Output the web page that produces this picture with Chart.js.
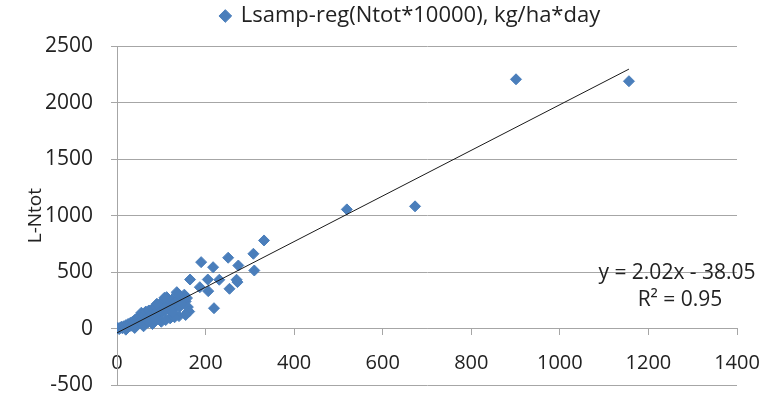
<!DOCTYPE html>
<html>
<head>
<meta charset="utf-8">
<script src="https://cdn.jsdelivr.net/npm/chart.js@4.4.0/dist/chart.umd.min.js"></script>
<style>
  body { margin: 0; background: #fff; }
  #wrap { width: 769px; height: 397px; }
</style>
</head>
<body>
<div id="wrap"><canvas id="myChart"></canvas></div>
<script>
const xVals = [0, 2, 5, 8, 10, 12, 15, 18, 20, 22, 25, 28, 30, 32, 35, 38, 40, 42, 45, 47,
  50, 52, 55, 57, 60, 62, 65, 67, 70, 72, 75, 78, 80, 82, 85, 87, 90, 92, 95, 98,
  100, 102, 105, 108, 110, 112, 115, 118, 120, 122, 125, 128, 130, 132, 135, 138, 140, 142, 145, 148,
  150, 152, 155, 158, 160, 163, 136, 153, 159, 146, 90, 107, 165,
  100, 120, 140, 155, 80, 60, 40, 20, 110, 130, 70, 85, 125,
  187, 206, 205, 190, 217, 219, 231, 251, 254, 270, 272, 274, 308, 310, 332,
  519, 673, 901, 1156];
const yVals = [0, 5, -5, 10, 15, 3, 20, 8, 30, 12, 40, 18, 50, 25, 60, 30, 75, 38, 90, 45,
  110, 55, 140, 62, 120, 70, 150, 80, 100, 160, 90, 130, 175, 105, 190, 120, 150, 210, 130, 175,
  230, 145, 195, 250, 160, 278, 210, 180, 240, 200, 260, 215, 175, 240, 322, 230, 260, 195, 280, 250,
  220, 300, 240, 270, 190, 150, 313, 278, 145, 219, 219, 272, 434,
  60, 90, 110, 120, 40, 20, 5, -10, 75, 100, 55, 80, 140,
  366, 331, 434, 588, 543, 180, 432, 627, 352, 432, 411, 558, 662, 514, 780,
  1055, 1082, 2207, 2190];

const slope = 2.02;
const intercept = -38.05;
const rSquared = 0.95;

const xTicks = [0, 200, 400, 600, 800, 1000, 1200, 1400];
const yTicks = [-500, 0, 500, 1000, 1500, 2000, 2500];

const seriesLabel = 'Lsamp-reg(Ntot*10000), kg/ha*day';
const yTitle = 'L-Ntot';

const points = xVals.map((x, i) => ({ x: x, y: yVals[i] }));
const xMin = Math.min(...xVals);
const xMax = Math.max(...xVals);
const trend = [
  { x: xMin, y: slope * xMin + intercept },
  { x: xMax, y: slope * xMax + intercept },
];

const FONT = 'Open Sans';
const gridColor = '#a6a6a6';

const equationLabel = {
  id: 'equationLabel',
  afterLayout(chart) {
    // excel centres the legend a bit right of the canvas middle
    chart.legend.left += 30;
    chart.legend.right += 30;
  },
  afterDraw(chart) {
    const c = chart.ctx;
    c.save();
    c.fillStyle = '#222';
    c.font = '21px "' + FONT + '"';
    c.textAlign = 'center';
    c.textBaseline = 'middle';
    c.fillText('y = ' + slope.toFixed(2) + 'x - ' + Math.abs(intercept).toFixed(2), 677, 273);
    c.fillText('R² = ' + rSquared.toFixed(2), 680, 300);
    c.restore();
  },
};

const ctx = document.getElementById('myChart').getContext('2d');
const myChart = new Chart(ctx, {
  type: 'scatter',
  data: {
    datasets: [
      {
        label: seriesLabel,
        data: points,
        backgroundColor: '#4A7EBB',
        borderColor: '#4A7EBB',
        borderWidth: 1,
        pointStyle: 'rectRot',
        pointRadius: 5.5,
        pointHoverRadius: 5.5,
        order: 2,
      },
      {
        label: 'trend',
        type: 'line',
        data: trend,
        borderColor: '#1a1a1a',
        borderWidth: 1,
        pointRadius: 0,
        fill: false,
        order: 1,
      },
    ],
  },
  options: {
    responsive: true,
    maintainAspectRatio: false,
    animation: false,
    layout: {
      padding: { left: 24, right: 32, top: -23, bottom: 12 },
    },
    plugins: {
      legend: {
        display: true,
        position: 'top',
        labels: {
          filter: (item) => item.datasetIndex === 0,
          usePointStyle: true,
          pointStyle: 'rectRot',
          boxWidth: 9,
          boxHeight: 9,
          color: '#222',
          padding: 28,
          font: { family: FONT, size: 22 },
        },
      },
      // empty title used as a spacer between legend and plot
      title: {
        display: true,
        text: '',
        weight: 500,
        font: { size: 1 },
        padding: { top: 8, bottom: 0 },
      },
      tooltip: { enabled: false },
    },
    scales: {
      x: {
        type: 'linear',
        position: { y: 0 },
        min: -0.0001,
        max: 1400,
        afterBuildTicks: (scale) => {
          scale.ticks = xTicks.map((v) => ({ value: v }));
        },
        afterFit: (scale) => {
          scale.paddingLeft = 0;
          scale.paddingRight = 0;
        },
        grid: {
          drawOnChartArea: false,
          drawTicks: true,
          tickLength: 6,
          color: gridColor,
        },
        border: { display: true, color: gridColor },
        ticks: {
          color: '#222',
          padding: 17,
          maxRotation: 0,
          autoSkip: false,
          callback: (value) => String(Math.round(value)),
          font: { family: FONT, size: 20 },
        },
      },
      y: {
        type: 'linear',
        min: -500,
        max: 2500,
        afterBuildTicks: (scale) => {
          scale.ticks = yTicks.map((v) => ({ value: v }));
        },
        afterFit: (scale) => {
          scale.width = 93;
          scale.paddingTop = 0;
          scale.paddingBottom = 0;
        },
        grid: {
          color: gridColor,
          tickLength: 6,
        },
        border: { display: true, color: gridColor },
        title: {
          display: true,
          text: yTitle,
          color: '#222',
          padding: 0,
          font: { family: FONT, size: 19 },
        },
        ticks: {
          color: '#222',
          padding: 18,
          callback: (value) => String(value),
          font: { family: FONT, size: 21 },
        },
      },
    },
  },
  plugins: [equationLabel],
});
</script>
</body>
</html>
